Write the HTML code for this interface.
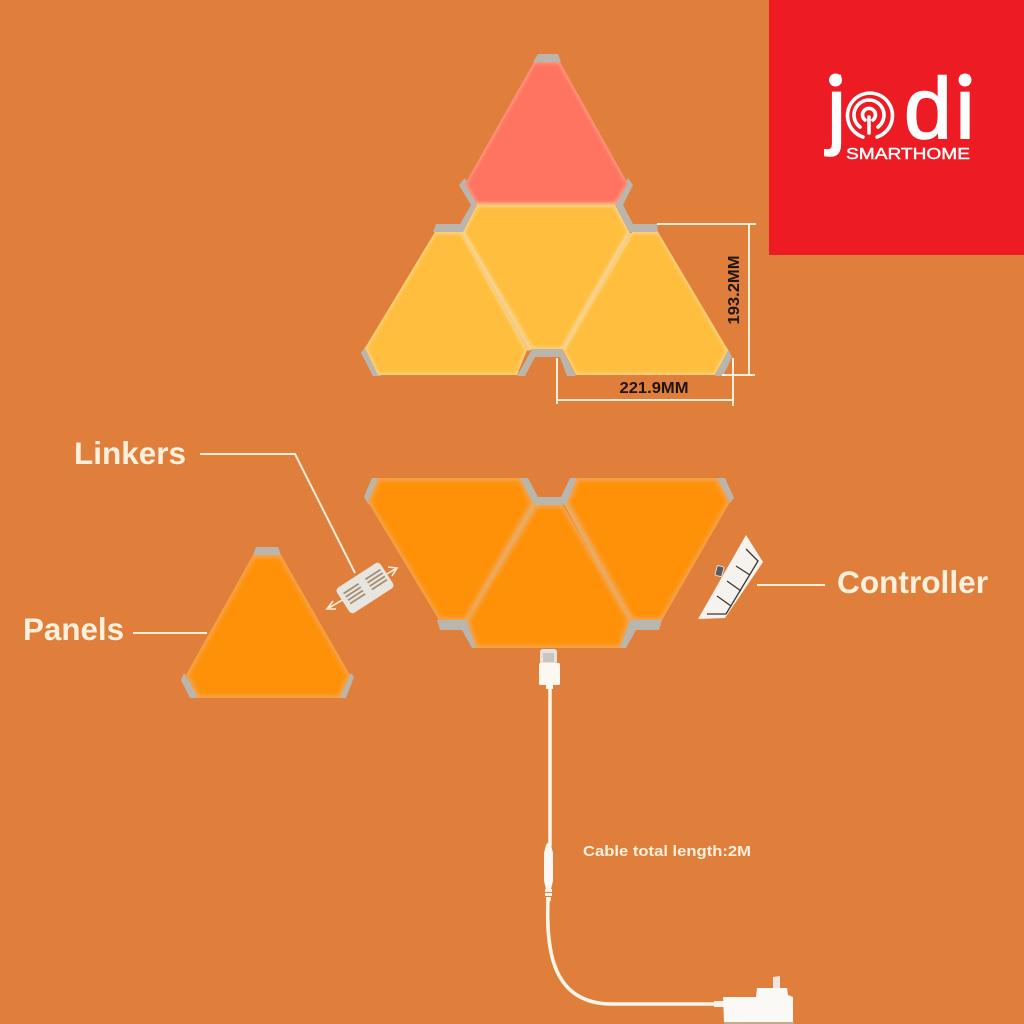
<!DOCTYPE html>
<html><head><meta charset="utf-8"><style>
html,body{margin:0;padding:0;background:#e07f3b}
svg{display:block}
.lab{font-family:"Liberation Sans",sans-serif;font-weight:700;fill:#fdf1de}
.dim{font-family:"Liberation Sans",sans-serif;font-weight:700;fill:#1d1510;font-size:16px}
.g{fill:#bab6ae}
.l{stroke:#fdeed6;fill:none}
</style></head><body>
<svg width="1024" height="1024" viewBox="0 0 1024 1024" xmlns="http://www.w3.org/2000/svg">
<defs>
<filter id="b" x="-10%" y="-10%" width="120%" height="120%"><feGaussianBlur stdDeviation="1.5"/></filter>
<filter id="c" x="-10%" y="-10%" width="120%" height="120%"><feGaussianBlur stdDeviation="2.2"/></filter>
<clipPath id="top">
<polygon points="534,62 560,62 628,184 615,205 477,205 465,184"/>
<polygon points="477,205 615,205 629,232 562,349 532,349 463,232"/>
<polygon points="435,232 462,232 527,350 517,375 378,375 365,348"/>
<polygon points="632,232 658,232 728,350 715,375 576,375 563,350"/>
</clipPath>
<clipPath id="low">
<polygon points="378,478 520,478 533,503 466,620 439,620 368,502"/>
<polygon points="577,478 717,478 730,502 662,620 632,620 567,503"/>
<polygon points="536,505 563,505 630,620 620,648 476,648 467,620"/>
<polygon points="253,555 281,555 350,675 340,698 198,698 186,675"/>
</clipPath>
</defs>
<rect width="1024" height="1024" fill="#e07f3b"/>

<!-- top cluster gray -->
<g class="g">
<polygon points="533,62 538,54 558,54 561,62"/>
<polygon points="459,185 465,178 477,205 463,232 433,232 436,224 460,224 471,205"/>
<polygon points="633,185 628,178 615,205 629,232 658,232 657,224 633,224 623,205"/>
<polygon points="361,353 365,347 381,376 373,376"/>
<polygon points="517,376 532,349 562,349 576,376 567,376 560,357 535,357 525,376"/>
<polygon points="715,376 728,349 732,357 723,376"/>
</g>
<!-- top panels -->
<path d="M463,232L530,350M629,232L564,350" stroke="#f2cc80" stroke-width="5" fill="none"/>
<polygon fill="#ff7461" points="534,62 560,62 628,184 615,205 477,205 465,184"/>
<polygon fill="#ffbe3d" points="477,205 615,205 629,232 562,349 532,349 463,232"/>
<polygon fill="#ffbe3d" points="435,232 462,232 527,350 517,375 378,375 365,348"/>
<polygon fill="#ffbe3d" points="632,232 658,232 728,350 715,375 576,375 563,350"/>
<g clip-path="url(#top)"><g filter="url(#b)" fill="none" stroke-width="3.5" stroke-linejoin="round">
<polygon stroke="#fb9f84" points="534,62 560,62 628,184 615,205 477,205 465,184"/>
<polygon stroke="#fbd590" points="477,205 615,205 629,232 562,349 532,349 463,232"/>
<polygon stroke="#fbd590" points="435,232 462,232 527,350 517,375 378,375 365,348"/>
<polygon stroke="#fbd590" points="632,232 658,232 728,350 715,375 576,375 563,350"/>
</g></g>
<path d="M463,232L531,350M629,232L563,350" stroke="#f3d9a0" stroke-width="1" fill="none"/>

<!-- dimensions -->
<g class="l" stroke-width="2">
<path d="M657,224H756M749,224V375M722,375H755"/>
<path d="M557,358V404M557,400H733M733,358V406"/>
</g>
<text class="dim" x="654" y="393" text-anchor="middle" textLength="69" lengthAdjust="spacingAndGlyphs">221.9MM</text>
<text class="dim" transform="translate(739,290) rotate(-90)" text-anchor="middle" textLength="69" lengthAdjust="spacingAndGlyphs">193.2MM</text>

<!-- lower cluster gray -->
<g class="g">
<polygon points="364,497 372,478 380,478 369,505"/>
<polygon points="520,478 528,478 538,497 561,497 570,478 577,478 567,503 563,505 536,505 533,503"/>
<polygon points="717,478 725,478 734,498 730,503"/>
<polygon points="437,620 467,620 476,648 472,648 462,630 440,630"/>
<polygon points="620,648 630,620 662,620 659,630 636,630 626,648"/>
<polygon points="253,555 256,547 278,547 281,555"/>
<polygon points="181,680 184,673 200,698 190,698"/>
<polygon points="354,677 351,673 338,698 346,698"/>
</g>
<!-- lower panels -->
<path d="M534,503L467,620M566,503L631,620" stroke="#e9ad62" stroke-width="5" fill="none"/>
<polygon fill="#ff9108" points="378,478 520,478 533,503 466,620 439,620 368,502"/>
<polygon fill="#ff9108" points="577,478 717,478 730,502 662,620 632,620 567,503"/>
<polygon fill="#ff9108" points="536,505 563,505 630,620 620,648 476,648 467,620"/>
<polygon fill="#ff9108" points="253,555 281,555 350,675 340,698 198,698 186,675"/>
<g clip-path="url(#low)"><g filter="url(#c)" fill="none" stroke="#f0a860" stroke-width="4.5" stroke-linejoin="round">
<polygon points="378,478 520,478 533,503 466,620 439,620 368,502"/>
<polygon points="577,478 717,478 730,502 662,620 632,620 567,503"/>
<polygon points="536,505 563,505 630,620 620,648 476,648 467,620"/>
<polygon points="253,555 281,555 350,675 340,698 198,698 186,675"/>
</g></g>

<!-- leader lines -->
<g class="l" stroke-width="2">
<path d="M200,454H295L355,573"/>
<path d="M133,633H207"/>
<path d="M757,585H825"/>
</g>
<text class="lab" x="74" y="464" font-size="31.5" textLength="112" lengthAdjust="spacingAndGlyphs">Linkers</text>
<text class="lab" x="23" y="640" font-size="31.5" textLength="101" lengthAdjust="spacingAndGlyphs">Panels</text>
<text class="lab" x="837" y="593" font-size="31.5" textLength="151" lengthAdjust="spacingAndGlyphs">Controller</text>
<text class="lab" x="583" y="856" font-size="15" textLength="168" lengthAdjust="spacingAndGlyphs">Cable total length:2M</text>

<!-- linker -->
<g stroke="#fdeed6" stroke-width="1.6" fill="none">
<path d="M327,609L397,568"/>
<path d="M333,601L327,609L336,609"/>
<path d="M388,567L397,568L392,576"/>
</g>
<g transform="translate(365,588) rotate(-33)">
<rect x="-26" y="-15" width="52" height="30" rx="4" fill="#e8e4df"/>
<g stroke="#a58f6f" stroke-width="1.8">
<path d="M-21,-7H-3M-21,-3H-3M-21,1H-3M-21,5H-3"/>
<path d="M5,-7H23M5,-3H23M5,1H23M5,5H23"/>
</g>
</g>

<!-- controller -->
<polygon points="746,535 763,562 725,618 698,619" fill="#f6f3ee"/>
<rect x="716" y="566" width="7" height="10" rx="1" fill="#5a5a5a" stroke="#ddd" stroke-width="1" transform="rotate(15 719 571)"/>
<g stroke="#3a342e" stroke-width="1.3" fill="none">
<path d="M707,614H726L758,561L746,549"/>
<path d="M717,596L731,606M727,581L741,591M736,566L750,575"/>
</g>

<!-- cable -->
<g fill="#fbf8f2">
<path d="M540,652q0,-3 3,-3h11q3,0 3,3v12h-17z" fill="#e6e2db"/>
<rect x="543" y="653" width="11" height="9" fill="#c8c6c0"/>
<rect x="539" y="663" width="21" height="22" rx="1.5"/>
<rect x="546" y="685" width="7" height="4"/>
</g>
<path d="M550,688V846" stroke="#fbf6ea" stroke-width="3.5" fill="none"/>
<path d="M546,845q3,-5 5,0l2,8v28l-2,8h-5l-2,-8v-28z" fill="#fbf8f2"/>
<path d="M545,889h7v3h-7zM545,893h7v3h-7zM546,897h5v4h-5z" fill="#f7f1e6"/>
<path d="M548,900C546,950 552,1004 612,1004H716" stroke="#fbf6ea" stroke-width="3.5" fill="none"/>
<rect x="714" y="1001" width="10" height="6" fill="#f7f1e6"/>
<polygon points="723,997 756,997 757,988 787,988 788,995 793,997 793,1022 724,1022" fill="#fbf9f5"/>
<polygon points="773,977 780,976 780,988 773,988" fill="#ece7df"/>
<rect x="724" y="1022" width="70" height="2" fill="#c7a98c"/>

<!-- logo -->
<rect x="769" y="0" width="255" height="255" fill="#ed1c24"/>
<g font-family="'Liberation Sans',sans-serif" fill="#fff" stroke="#fff">
<text x="827" y="138" font-size="86" stroke-width="1.6">j</text>
<text x="904" y="138" font-size="86" stroke-width="1.6">d</text>
<text x="955.5" y="138" font-size="86" stroke-width="1.6">i</text>
<text x="846" y="159" font-size="16" textLength="124" lengthAdjust="spacingAndGlyphs" stroke-width=".4">SMARTHOME</text>
</g>
<circle cx="835.5" cy="80" r="6.5" fill="#fff"/>
<circle cx="965" cy="80" r="6.5" fill="#fff"/>
<g fill="none" stroke="#fff" stroke-width="3.6" stroke-linecap="round">
<path d="M863,137A22.5,22.5 0 1 1 877,137"/>
<path d="M860,127A15,15 0 1 1 878,127"/>
<path d="M865,120A6.5,6.5 0 1 1 873,120"/>
<path d="M869,117V133"/>
</g>
</svg>
</body></html>
